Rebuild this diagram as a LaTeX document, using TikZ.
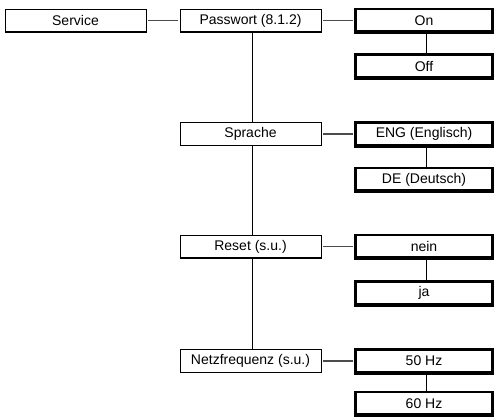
\documentclass[tikz,border=0pt]{standalone}
\usepackage{fontspec}
\setmainfont{Liberation Sans}
\begin{document}
\begin{tikzpicture}[x=1pt,y=-1pt,
  thinbox/.style={draw=black,line width=0.8pt,minimum width=141pt,minimum height=23pt,inner sep=0pt,outer sep=0pt,
    font=\fontsize{14}{16}\selectfont,
    append after command={\pgfextra{\draw[line width=1.3pt] (\tikzlastnode.south west)--(\tikzlastnode.south east);}}},
  thickbox/.style={draw=black,line width=2.8pt,minimum width=137pt,minimum height=23pt,inner sep=0pt,outer sep=0pt,
    font=\fontsize{14}{16}\selectfont,
    append after command={\pgfextra{\draw[line width=4pt] ([xshift=-1.4pt]\tikzlastnode.south west)--([xshift=1.4pt]\tikzlastnode.south east);}}},
  hcon/.style={draw=black!70,line width=1.2pt},
  vcon/.style={draw=black,line width=0.9pt}]
\useasboundingbox (0,0) rectangle (494,416);
% column 1
\node[thinbox] (srv) at (75.5,20.5) {Service};
% column 2
\node[thinbox] (pass) at (250.5,20.5) {Passwort (8.1.2)};
\node[thinbox] (spr) at (250.5,134) {Sprache};
\node[thinbox] (rst) at (250.5,246.5) {Reset (s.u.)};
\node[thinbox] (net) at (250.5,361) {Netzfrequenz (s.u.)};
% column 3
\node[thickbox] (on) at (424,20.5) {On};
\node[thickbox] (off) at (424,66) {Off};
\node[thickbox] (eng) at (424,134) {ENG (Englisch)};
\node[thickbox] (de) at (424,179.5) {DE (Deutsch)};
\node[thickbox] (nein) at (424,246.5) {nein};
\node[thickbox] (ja) at (424,293) {ja};
\node[thickbox] (hz50) at (424,361) {50 Hz};
\node[thickbox] (hz60) at (424,403.5) {60 Hz};
% horizontal connectors
\draw[hcon] ([xshift=2pt]srv.east) -- ([xshift=-2pt]pass.west);
\draw[hcon] ([xshift=2pt]pass.east) -- ([xshift=-3pt]on.west);
\draw[hcon] ([xshift=2pt]spr.east) -- ([xshift=-3pt]eng.west);
\draw[hcon] ([xshift=2pt]rst.east) -- ([xshift=-3pt]nein.west);
\draw[hcon] ([xshift=2pt]net.east) -- ([xshift=-3pt]hz50.west);
% vertical connectors column 2
\draw[vcon] ([xshift=1.5pt]pass.south) -- ([xshift=1.5pt]spr.north);
\draw[vcon] ([xshift=1.5pt]spr.south) -- ([xshift=1.5pt]rst.north);
\draw[vcon] ([xshift=1.5pt]rst.south) -- ([xshift=1.5pt]net.north);
% vertical connectors column 3
\draw[vcon] ([xshift=2pt]on.south) -- ([xshift=2pt]off.north);
\draw[vcon] ([xshift=2pt]eng.south) -- ([xshift=2pt]de.north);
\draw[vcon] ([xshift=2pt]nein.south) -- ([xshift=2pt]ja.north);
\draw[vcon] ([xshift=2pt]hz50.south) -- ([xshift=2pt]hz60.north);
\end{tikzpicture}
\end{document}
